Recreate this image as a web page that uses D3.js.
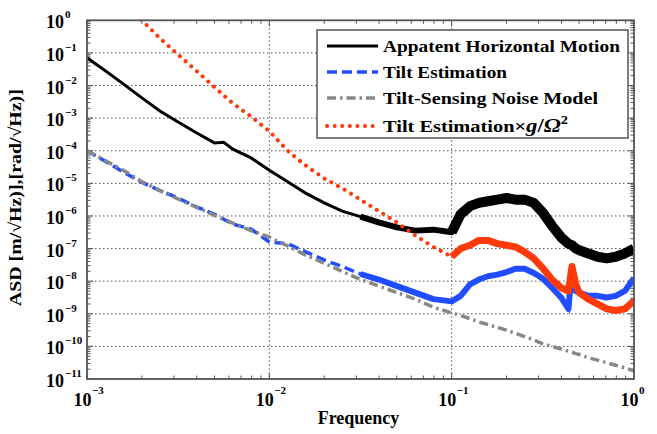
<!DOCTYPE html>
<html>
<head>
<meta charset="utf-8">
<script src="https://cdn.jsdelivr.net/npm/d3@7"></script>
<style>
  body { margin: 0; background: #fff; }
  text { font-family: "Liberation Serif", "Times New Roman", serif; font-weight: bold; }
</style>
</head>
<body>
<div id="chart"></div>
<script>
// frequency grid (Hz), shared by all four curves
var freq = [0.001, 0.00126, 0.00158, 0.002, 0.00251, 0.00316, 0.00398, 0.005, 0.00562, 0.00631, 0.00794,
  0.01, 0.0126, 0.0158, 0.02, 0.0251, 0.0316, 0.0398, 0.0501, 0.0631, 0.0794,
  0.1, 0.112, 0.126, 0.141, 0.158, 0.178, 0.2, 0.224, 0.251, 0.282, 0.316, 0.355, 0.398,
  0.437, 0.457, 0.479, 0.501, 0.562, 0.631, 0.708, 0.794, 0.891, 1.0];

// log10 of ASD
var horizontal = [-1.15, -1.55, -1.95, -2.38, -2.78, -3.12, -3.45, -3.76, -3.74, -3.95, -4.22,
  -4.6, -4.95, -5.3, -5.6, -5.85, -6.02, -6.2, -6.35, -6.45, -6.42,
  -6.5, -5.95, -5.7, -5.6, -5.55, -5.5, -5.45, -5.5, -5.5, -5.6, -5.9, -6.3, -6.65,
  -6.85, -6.9, -7.0, -7.05, -7.15, -7.25, -7.3, -7.25, -7.15, -7.0];
var tilt = [-4.0, -4.32, -4.65, -4.97, -5.22, -5.45, -5.72, -5.95, -6.1, -6.25, -6.4,
  -6.8, -6.85, -7.1, -7.35, -7.55, -7.78, -7.95, -8.15, -8.35, -8.55,
  -8.62, -8.45, -8.1, -7.95, -7.85, -7.8, -7.72, -7.62, -7.62, -7.75, -7.92, -8.2, -8.5,
  -8.85, -7.6, -8.3, -8.35, -8.45, -8.45, -8.5, -8.45, -8.3, -7.9];
var noiseModel = [-4.0, -4.3, -4.6, -4.95, -5.22, -5.48, -5.73, -5.98, -6.1, -6.22, -6.45,
  -6.65, -6.92, -7.2, -7.45, -7.7, -7.95, -8.15, -8.35, -8.55, -8.8,
  -8.97, -9.05, -9.15, -9.25, -9.33, -9.42, -9.5, -9.6, -9.7, -9.8, -9.92, -10.0, -10.08,
  -10.15, -10.18, -10.22, -10.25, -10.35, -10.42, -10.5, -10.58, -10.66, -10.75];
var tiltScaled = [null, null, 0.45, 0.0, -0.55, -1.05, -1.55, -2.05, -2.3, -2.55, -2.95,
  -3.4, -4.0, -4.45, -4.85, -5.15, -5.5, -5.85, -6.2, -6.6, -6.95,
  -7.25, -7.0, -6.9, -6.75, -6.75, -6.85, -6.9, -6.95, -7.1, -7.3, -7.6, -7.95, -8.2,
  -8.3, -7.55, -8.1, -8.35, -8.55, -8.7, -8.85, -8.9, -8.85, -8.6];

var xTicks = [-3, -2, -1, 0];
var yTicks = [0, -1, -2, -3, -4, -5, -6, -7, -8, -9, -10, -11];
var legendLabels = ["Appatent Horizontal Motion", "Tilt Estimation", "Tilt-Sensing Noise Model", "Tilt Estimation"];
var legendWidths = [237, 124, 215, 185];

var width = 657, height = 434;
var margin = { top: 20.3, right: 23, bottom: 55, left: 87 };
var w = width - margin.left - margin.right;
var h = height - margin.top - margin.bottom;

var svg = d3.select("#chart").append("svg")
  .attr("width", width)
  .attr("height", height);

var g = svg.append("g")
  .attr("transform", `translate(${margin.left}, ${margin.top})`);

var x = d3.scaleLog().domain([1e-3, 1]).range([0, w]);
var y = d3.scaleLog().domain([1e-11, 1]).range([h, 0]);

// grid
xTicks.slice(1, -1).forEach(function(e) {
  g.append("line").attr("x1", x(Math.pow(10, e))).attr("x2", x(Math.pow(10, e)))
    .attr("y1", 0).attr("y2", h)
    .attr("stroke", "#555").attr("stroke-width", 1).attr("stroke-dasharray", "1.5 2.5");
});
yTicks.slice(1, -1).forEach(function(e) {
  g.append("line").attr("y1", y(Math.pow(10, e))).attr("y2", y(Math.pow(10, e)))
    .attr("x1", 0).attr("x2", w)
    .attr("stroke", "#555").attr("stroke-width", 1).attr("stroke-dasharray", "1.5 2.5");
});

// minor/major ticks on all four sides, pointing inward
var tickG = g.append("g").attr("stroke", "#555").attr("stroke-width", 1);
for (var e = -3; e < 0; e++) {
  for (var m = 1; m < 10; m++) {
    var xv = x(m * Math.pow(10, e));
    var len = m === 1 ? 6 : 3.5;
    tickG.append("line").attr("x1", xv).attr("x2", xv).attr("y1", h).attr("y2", h - len);
    tickG.append("line").attr("x1", xv).attr("x2", xv).attr("y1", 0).attr("y2", len);
  }
}
for (var e = -11; e < 0; e++) {
  for (var m = 1; m < 10; m++) {
    var yv = y(m * Math.pow(10, e));
    var len = m === 1 ? 6 : 3.5;
    tickG.append("line").attr("y1", yv).attr("y2", yv).attr("x1", 0).attr("x2", len);
    tickG.append("line").attr("y1", yv).attr("y2", yv).attr("x1", w).attr("x2", w - len);
  }
}

// curves
function series(vals) {
  return freq.map(function(f, i) { return { f: f, v: vals[i] }; })
    .filter(function(d) { return d.v !== null; });
}
var line = d3.line()
  .x(function(d) { return x(d.f); })
  .y(function(d) { return y(Math.pow(10, d.v)); });

var plot = g.append("g");
plot.append("clipPath").attr("id", "clip").append("rect").attr("width", w).attr("height", h);
var curves = plot.append("g").attr("clip-path", "url(#clip)");

var black = series(horizontal);
curves.append("path").datum(black).attr("d", line)
  .attr("fill", "none").attr("stroke", "#000").attr("stroke-width", 3);
curves.append("path").datum(black.filter(function(d) { return d.f >= 0.03; })).attr("d", line)
  .attr("fill", "none").attr("stroke", "#000").attr("stroke-width", 6).attr("stroke-linejoin", "round");
curves.append("path").datum(black.filter(function(d) { return d.f >= 0.1; })).attr("d", line)
  .attr("fill", "none").attr("stroke", "#000").attr("stroke-width", 10).attr("stroke-linejoin", "round");

var blue = series(tilt);
curves.append("path").datum(blue).attr("d", line)
  .attr("fill", "none").attr("stroke", "#1f4dff").attr("stroke-width", 3.5).attr("stroke-dasharray", "10 5");
curves.append("path").datum(blue.filter(function(d) { return d.f >= 0.03; })).attr("d", line)
  .attr("fill", "none").attr("stroke", "#1f4dff").attr("stroke-width", 6).attr("stroke-linejoin", "round");

curves.append("path").datum(series(noiseModel)).attr("d", line)
  .attr("fill", "none").attr("stroke", "#888").attr("stroke-width", 3.5).attr("stroke-dasharray", "9 4 2.5 4");

var red = series(tiltScaled);
curves.append("path").datum(red).attr("d", line)
  .attr("fill", "none").attr("stroke", "#ff3a0a").attr("stroke-width", 4)
  .attr("stroke-linecap", "round").attr("stroke-dasharray", "0.1 7.5");
curves.append("path").datum(red.filter(function(d) { return d.f >= 0.08; })).attr("d", line)
  .attr("fill", "none").attr("stroke", "#ff3a0a").attr("stroke-width", 7).attr("stroke-linejoin", "round");

// axes box
g.append("rect").attr("width", w).attr("height", h)
  .attr("fill", "none").attr("stroke", "#555").attr("stroke-width", 1.8);

// tick labels
xTicks.forEach(function(e) {
  var xv = x(Math.pow(10, e));
  g.append("text").attr("x", xv + 4.5).attr("y", h + 27).attr("text-anchor", "end")
    .attr("font-size", "18px").text("10");
  g.append("text").attr("x", xv + 5).attr("y", h + 15).attr("font-size", "11px")
    .text(e === 0 ? "0" : "\u2212" + (-e));
});
yTicks.forEach(function(e) {
  var yv = y(Math.pow(10, e));
  g.append("text").attr("x", -23).attr("y", yv + 8).attr("text-anchor", "end")
    .attr("font-size", "18px").text("10");
  g.append("text").attr("x", -22).attr("y", yv - 2).attr("font-size", "11px")
    .text(e === 0 ? "0" : "\u2212" + (-e));
});

// axis titles
g.append("text").attr("x", w / 2 - 2).attr("y", h + 45).attr("text-anchor", "middle")
  .attr("font-size", "18px").text("Frequency");
g.append("text").attr("transform", `translate(${-66}, ${h / 2 - 2}) rotate(-90)`)
  .attr("text-anchor", "middle").attr("font-size", "17px")
  .attr("textLength", 217).attr("lengthAdjust", "spacingAndGlyphs")
  .text("ASD [m/\u221AHz)],[rad/\u221AHz)]");

// legend
var lg = svg.append("g").attr("transform", "translate(317, 30)");
lg.append("rect").attr("width", 311).attr("height", 108)
  .attr("fill", "#fff").attr("stroke", "#555").attr("stroke-width", 1.5);
var styles = [
  { c: "#000", dash: null, sw: 3, cap: "butt" },
  { c: "#1f4dff", dash: "10 5", sw: 3.5, cap: "butt" },
  { c: "#888", dash: "9 4 2.5 4", sw: 3.5, cap: "butt" },
  { c: "#ff3a0a", dash: "0.1 7.5", sw: 4, cap: "round" }
];
var rowY = [16, 42, 68, 96];
legendLabels.forEach(function(lab, i) {
  lg.append("line").attr("x1", 10).attr("x2", 61).attr("y1", rowY[i]).attr("y2", rowY[i])
    .attr("stroke", styles[i].c).attr("stroke-width", styles[i].sw)
    .attr("stroke-dasharray", styles[i].dash).attr("stroke-linecap", styles[i].cap);
  var t = lg.append("text").attr("x", 66).attr("y", rowY[i] + 6).attr("font-size", "17px")
    .attr("textLength", legendWidths[i]).attr("lengthAdjust", "spacingAndGlyphs").text(lab);
  if (i === 3) {
    t.append("tspan").text("\u00D7");
    t.append("tspan").attr("font-style", "italic").attr("font-size", "19px").text("g");
    t.append("tspan").attr("font-size", "19px").text("/");
    t.append("tspan").attr("font-style", "italic").attr("font-size", "19px").text("\u03A9");
    t.append("tspan").attr("font-size", "12px").attr("dy", -8).text("2");
  }
});
</script>
</body>
</html>
